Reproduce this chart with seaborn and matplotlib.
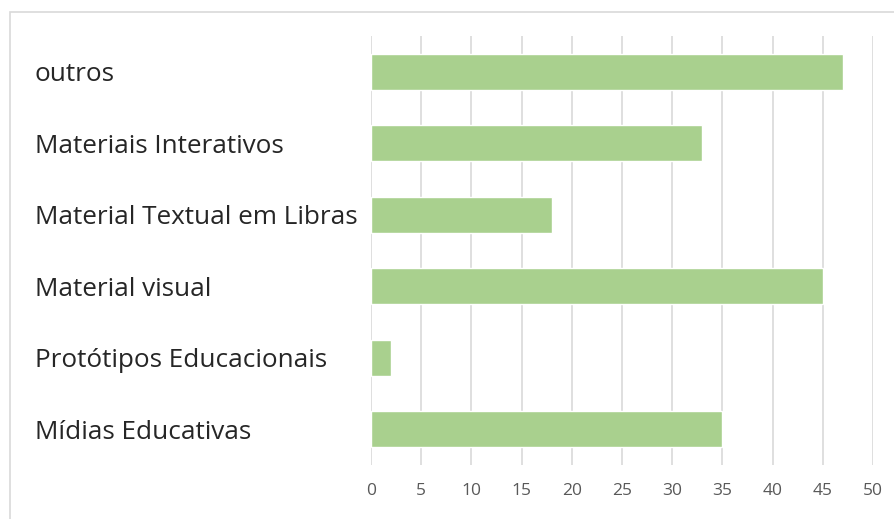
import matplotlib
matplotlib.use("Agg")
import matplotlib.pyplot as plt
import seaborn as sns
import pandas as pd
from matplotlib.patches import Rectangle

## Data
categories = ["outros", "Materiais Interativos", "Material Textual em Libras",
              "Material visual", "Protótipos Educacionais", "Mídias Educativas"]
values = [47, 33, 18, 45, 2, 35]
x_ticks = [0, 5, 10, 15, 20, 25, 30, 35, 40, 45, 50]

df = pd.DataFrame({"categoria": categories, "valor": values})

sns.set_theme(style="white")
plt.rcParams['font.family'] = ['Open Sans', 'DejaVu Sans']

fig = plt.figure(figsize=(8.95, 5.19), dpi=100)
ax = fig.add_axes([371 / 895, 1 - 465 / 519, (873 - 371) / 895, (465 - 36) / 519])

sns.barplot(data=df, x="valor", y="categoria", color="#A9D08E", saturation=1,
            width=0.5, ax=ax, orient="h")

ax.set_xlim(0, 50)
ax.set_ylim(5.5, -0.5)
ax.set_xticks(x_ticks)
ax.set_xticklabels([str(t) for t in x_ticks], color="#595959", fontsize=12.5)
ax.tick_params(axis="x", length=0, pad=13)
ax.tick_params(axis="y", length=0, pad=336 * 72 / 100)
for lab in ax.get_yticklabels():
    lab.set_horizontalalignment("left")
    lab.set_fontsize(18.8)
    lab.set_color("#262626")

ax.grid(axis="x", color="#D9D9D9", linewidth=1.2)
ax.set_axisbelow(True)
for s in ax.spines.values():
    s.set_visible(False)
ax.set_xlabel("")
ax.set_ylabel("")

# outer frame
fig.patches.append(Rectangle((10 / 895, -0.1), 1.2, 1 - 12 / 519 + 0.1,
                             transform=fig.transFigure, fill=False,
                             edgecolor="#D9D9D9", linewidth=1.2))

fig.savefig("out.png", dpi=100)
